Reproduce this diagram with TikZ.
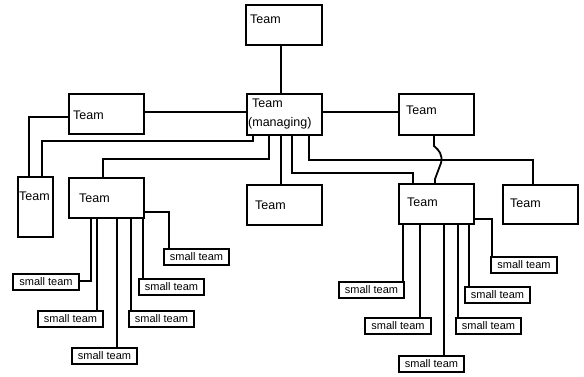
\documentclass[tikz,border=0pt]{standalone}
\usepackage{fontspec}
\setmainfont{Liberation Sans}
\begin{document}
\begin{tikzpicture}[x=1pt,y=-1pt,
  box/.style={draw, line width=1.8pt, rectangle, inner sep=0pt, outer sep=0pt, anchor=north west, minimum width=75pt, minimum height=40pt},
  sbox/.style={draw, line width=1.8pt, rectangle, inner sep=0pt, outer sep=0pt, anchor=north west, minimum width=65pt, minimum height=16pt, font=\fontsize{11}{12}\selectfont},
  lbl/.style={anchor=west, inner sep=0pt, font=\fontsize{12.5}{19}\selectfont, align=left},
  conn/.style={line width=1.8pt}]
\useasboundingbox (0,0) rectangle (584,376);
% main team boxes
\node[box, minimum width=76pt] (top) at (246,5) {};
\node[box, minimum height=41pt] (mgr) at (247,94) {};
\node[box, minimum height=41pt] (rt) at (399,94) {};
\node[box] (lt) at (69,94) {};
\node[box, minimum width=35pt, minimum height=60pt] (tall) at (18,177) {};
\node[box] (lm) at (69,178) {};
\node[box] (mid) at (247,185) {};
\node[box] (rm) at (399,184) {};
\node[box, minimum height=39pt] (fr) at (503,185) {};
% labels
\node[lbl] (ttop) at (250,19) {Team};
\node[lbl] (tmgr) at (248,114) {\hspace*{4pt}Team\\(managing)};
\node[lbl] (trt) at (406,110) {Team};
\node[lbl] (tmid) at (255,205) {Team};
\node[lbl] (trm) at (407,202) {Team};
\node[lbl] (tfr) at (510,203) {Team};
\node[lbl] (tlt) at (73,115) {Team};
\node[lbl] (ttall) at (19,196) {Team};
\node[lbl] (tlm) at (79,198) {Team};
% small teams left
\node[sbox, minimum width=66pt] (s1) at (13,274) {small team};
\node[sbox] (s2) at (38,311) {small team};
\node[sbox] (s3) at (72,348) {small team};
\node[sbox] (s4) at (129,311) {small team};
\node[sbox] (s5) at (139,279) {small team};
\node[sbox] (s6) at (164,249) {small team};
% small teams right
\node[sbox] (r1) at (339,282) {small team};
\node[sbox, minimum width=66pt] (r2) at (365,318) {small team};
\node[sbox] (r3) at (399,356) {small team};
\node[sbox] (r4) at (456,318) {small team};
\node[sbox] (r5) at (465,287) {small team};
\node[sbox, minimum width=66pt] (r6) at (491,257) {small team};
% connectors
\draw[conn] (281,0 |- top.south) -- (281,0 |- mgr.north);
\draw[conn] (lt.east |- 0,112) -- (mgr.west |- 0,112);
\draw[conn] (mgr.east |- 0,112) -- (rt.west |- 0,112);
\draw[conn] (lt.west |- 0,117) -| (29,0 |- tall.north);
\draw[conn] (253,0 |- mgr.south) |- (42,141) -- (42,0 |- tall.north);
\draw[conn] (269,0 |- mgr.south) |- (103,159) -- (103,0 |- lm.north);
\draw[conn] (281,0 |- mgr.south) -- (281,0 |- mid.north);
\draw[conn] (292,0 |- mgr.south) |- (413,173) -- (413,0 |- rm.north);
\draw[conn] (309,0 |- mgr.south) |- (533,160) -- (533,0 |- fr.north);
\draw[conn] (434,0 |- rt.south) -- (434,146) .. controls (439,150) and (443,155) .. (441,163) -- (435,179) -- (435,0 |- rm.north);
% left small team connectors
\draw[conn] (91,0 |- lm.south) |- (s1.east |- 0,281);
\draw[conn] (97,0 |- lm.south) -- (97,0 |- s2.north);
\draw[conn] (117,0 |- lm.south) -- (117,0 |- s3.north);
\draw[conn] (131,0 |- lm.south) -- (131,0 |- s4.north);
\draw[conn] (143,0 |- lm.south) -- (143,0 |- s5.north);
\draw[conn] (lm.east |- 0,212) -| (169,0 |- s6.north);
% right small team connectors
\draw[conn] (403,0 |- rm.south) -- (403,0 |- r1.north);
\draw[conn] (420,0 |- rm.south) -- (420,0 |- r2.north);
\draw[conn] (444,0 |- rm.south) -- (444,0 |- r3.north);
\draw[conn] (458,0 |- rm.south) -- (458,0 |- r4.north);
\draw[conn] (469,0 |- rm.south) -- (469,0 |- r5.north);
\draw[conn] (rm.east |- 0,219) -| (492,0 |- r6.north);
\end{tikzpicture}
\end{document}
